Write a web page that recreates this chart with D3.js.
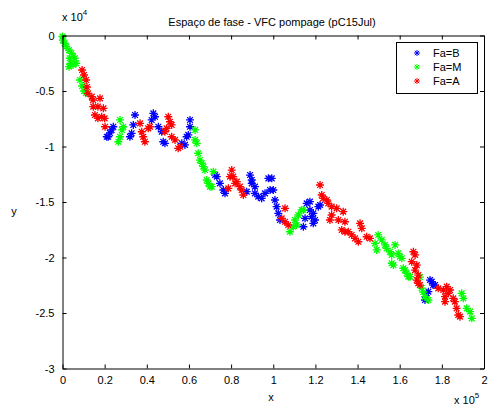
<!DOCTYPE html>
<html>
<head>
<meta charset="utf-8">
<script src="https://cdn.jsdelivr.net/npm/d3@7"></script>
<style>
  html, body { margin: 0; padding: 0; background: #fff; }
  svg { display: block; font-family: "Liberation Sans", Arial, sans-serif; }
</style>
</head>
<body>
<svg id="chart" width="495" height="407"></svg>
<script>
// Phase-space trajectory, split by operating class
const seriesNames = ["Fa=B", "Fa=M", "Fa=A"];
const seriesColors = ["#0000ff", "#00ff00", "#ff0000"];

const pointsB = [
  [21700,-9120],[24100,-8220],[23300,-8510],[21000,-9120],[22500,-8780],
  [32800,-8810],[32000,-9120],[34400,-7160],[33600,-8060],
  [43100,-7010],[43900,-7320],[42300,-7610],
  [45500,-8220],[47100,-8670],[47800,-9570],[48600,-9710],
  [56600,-9710],[58100,-9860],[58900,-9120],[59700,-8960],[60500,-8220],[60500,-7610],
  [72400,-12570],[73200,-12720],[74700,-13320],[76300,-13920],[77100,-14220],
  [87400,-14070],[89000,-12570],[89800,-13020],[89800,-13320],[91300,-13620],[91300,-14220],
  [92900,-14520],[94500,-14670],[96100,-14220],[97700,-12870],[99300,-12870],[98500,-13920],
  [100000,-13920],[100800,-14820],[101600,-15420],[102400,-16020],[103200,-16620],
  [114300,-17230],[115100,-16470],[115900,-15120],[117400,-15720],[117400,-14970],
  [118200,-16320],[119000,-16920],[119800,-16620],[119000,-16020],[121400,-15420],[122200,-15270],
  [174400,-22030],[175200,-22180],[175900,-22480],[176800,-22480],[173600,-23080],[172800,-23230],[172000,-23830]
];

const pointsM = [
  [0,-90],[200,-410],[1000,-700],[1800,-1010],[3100,-1310],[4200,-1600],[5000,-1910],
  [3400,-2050],[5800,-2050],[3900,-2500],[3100,-2810],[5000,-2660],[6500,-2500],
  [8300,-4010],[9300,-4550],[10200,-5000],[11200,-5180],
  [27300,-7610],[28800,-8220],[27300,-9120],[26500,-9570],[28200,-8510],
  [62900,-8510],[62900,-9410],[63700,-9710],[64400,-10610],[65200,-11220],[66100,-11510],
  [66800,-11820],[67600,-12120],[68400,-13020],[70000,-13620],[69200,-13320],[71600,-12270],[70800,-13620],
  [107900,-17680],[109500,-17230],[110300,-16620],[111100,-17070],[111900,-16170],[113500,-15720],[114300,-15720],
  [148300,-18720],[149800,-17970],[151500,-18420],[153000,-18870],[149100,-19320],[153800,-19170],
  [155400,-19480],[156200,-19770],[157800,-18870],[159300,-19620],[160100,-19930],[161000,-20070],
  [156200,-20520],[157000,-20680],[161700,-20970],[162500,-21130],[163300,-21420],[164100,-21730],[164900,-21730],
  [169600,-21760],[170400,-22750],[171200,-23110],[172000,-23530],[173600,-23830],
  [189400,-23230],[190200,-23680],[191800,-24580],[193400,-24880],[194200,-25480]
];

const pointsA = [
  [9300,-3110],[10200,-3560],[11200,-4010],[11600,-4640],
  [12100,-5210],[13900,-5510],[14500,-5810],[17800,-5660],[14600,-6410],[16800,-6410],
  [19400,-6560],[15400,-7160],[16800,-7460],[18600,-7320],[20000,-7460],[20200,-8220],
  [36800,-7910],[37600,-8670],[38300,-9120],[39100,-9570],[40700,-8360],[41500,-8220],
  [50200,-7320],[51000,-7770],[51800,-8060],[48600,-8670],[49400,-8360],[51800,-9120],
  [53400,-9410],[54900,-10160],[55800,-10020],
  [78700,-13770],[79500,-12720],[80300,-12120],[81000,-12720],[81900,-13320],[82700,-13170],
  [84200,-13620],[85000,-13920],[85800,-14370],
  [105600,-15570],[104000,-16470],[105600,-16780],[107100,-17070],
  [122200,-13470],[123000,-14370],[123700,-14670],[125400,-14820],[126100,-15120],[127700,-15420],
  [127700,-16170],[126900,-16620],[130100,-15570],[130900,-16620],[133200,-15870],[134000,-16780],
  [132500,-17520],[134000,-17680],[135600,-17680],[137200,-17970],[138800,-18270],[140400,-18580],
  [141200,-16920],[142000,-17370],[144300,-18130],[145900,-18270],
  [166500,-19480],[167300,-19770],[165700,-20380],[168100,-20680],[167300,-21130],[168800,-21580],
  [168100,-22030],[168800,-22320],[169600,-22480],
  [178300,-22780],[180700,-22930],[182300,-22630],[183900,-22930],[183100,-23230],[181500,-23530],
  [181500,-23980],[185400,-23680],[186200,-23980],[187000,-24580],[187800,-25180],[188600,-25330]
];

const xTicks = [0, 20000, 40000, 60000, 80000, 100000, 120000, 140000, 160000, 180000, 200000];
const xTickLabels = ["0", "0.2", "0.4", "0.6", "0.8", "1", "1.2", "1.4", "1.6", "1.8", "2"];
const yTicks = [0, -5000, -10000, -15000, -20000, -25000, -30000];
const yTickLabels = ["0", "-0.5", "-1", "-1.5", "-2", "-2.5", "-3"];

const titleText = "Espaço de fase - VFC pompage (pC15Jul)";

const svg = d3.select("#chart");
const plotLeft = 62.5, plotRight = 484, plotTop = 35.5, plotBottom = 368.5;

const x = d3.scaleLinear().domain([0, 200000]).range([plotLeft, plotRight]);
const y = d3.scaleLinear().domain([-30000, 0]).range([plotBottom, plotTop]);

// Plot area
svg.append("rect")
  .attr("x", plotLeft).attr("y", plotTop)
  .attr("width", plotRight - plotLeft).attr("height", plotBottom - plotTop)
  .attr("fill", "#fff");

// Asterisk marker
function asterisk(r) {
  const d = r * 0.72;
  return `M${-r},0H${r}M0,${-r}V${r}M${-d},${-d}L${d},${d}M${-d},${d}L${d},${-d}`;
}

const allSeries = [pointsB, pointsM, pointsA];
allSeries.forEach((pts, i) => {
  svg.append("g")
    .selectAll("path")
    .data(pts)
    .join("path")
    .attr("transform", d => `translate(${x(d[0])},${y(d[1])})`)
    .attr("d", asterisk(4))
    .attr("fill", "none")
    .attr("stroke", seriesColors[i])
    .attr("stroke-width", 1.3);
});

// Axes (ticks point inward, box on all four sides)
const fontSize = 11;
const xFmt = d => xTickLabels[xTicks.indexOf(d)];
const yFmt = d => yTickLabels[yTicks.indexOf(d)];

const gxb = svg.append("g").attr("transform", `translate(0,${plotBottom})`)
  .call(d3.axisBottom(x).tickValues(xTicks).tickFormat(xFmt).tickSizeInner(-4).tickSizeOuter(0).tickPadding(8));
const gxt = svg.append("g").attr("transform", `translate(0,${plotTop})`)
  .call(d3.axisTop(x).tickValues(xTicks).tickFormat("").tickSizeInner(-4).tickSizeOuter(0));
const gyl = svg.append("g").attr("transform", `translate(${plotLeft},0)`)
  .call(d3.axisLeft(y).tickValues(yTicks).tickFormat(yFmt).tickSizeInner(-4).tickSizeOuter(0).tickPadding(8));
const gyr = svg.append("g").attr("transform", `translate(${plotRight},0)`)
  .call(d3.axisRight(y).tickValues(yTicks).tickFormat("").tickSizeInner(-4).tickSizeOuter(0));

[gxb, gxt, gyl, gyr].forEach(g => {
  g.selectAll(".domain").attr("stroke", "#000").attr("stroke-width", 1);
  g.selectAll(".tick line").attr("stroke", "#000");
  g.selectAll("text").attr("fill", "#000")
    .style("font-family", '"Liberation Sans", Arial, sans-serif')
    .style("font-size", fontSize + "px");
});

// Title and axis labels
svg.append("text").attr("x", 272).attr("y", 26).attr("text-anchor", "middle")
  .style("font-size", "11px").text(titleText);
svg.append("text").attr("x", 271).attr("y", 401).attr("text-anchor", "middle")
  .style("font-size", "11px").text("x");
svg.append("text").attr("x", 14).attr("y", 215).attr("text-anchor", "middle")
  .style("font-size", "11px").text("y");

// Exponent labels
const expTop = svg.append("text").attr("x", 62).attr("y", 21).style("font-size", "11px");
expTop.append("tspan").text("x 10");
expTop.append("tspan").attr("dy", -6).style("font-size", "8px").text("4");

const expBot = svg.append("text").attr("x", 454).attr("y", 404).style("font-size", "11px");
expBot.append("tspan").text("x 10");
expBot.append("tspan").attr("dy", -6).style("font-size", "8px").text("5");

// Legend
const lg = svg.append("g");
lg.append("rect").attr("x", 396.5).attr("y", 42.5).attr("width", 81).attr("height", 51)
  .attr("fill", "#fff").attr("stroke", "#000").attr("stroke-width", 1);
seriesNames.forEach((name, i) => {
  const cy = 53 + i * 14;
  lg.append("path").attr("transform", `translate(417,${cy})`).attr("d", asterisk(3))
    .attr("fill", "none").attr("stroke", seriesColors[i]).attr("stroke-width", 1);
  lg.append("text").attr("x", 433).attr("y", cy + 4).style("font-size", "11px").text(name);
});
</script>
</body>
</html>
